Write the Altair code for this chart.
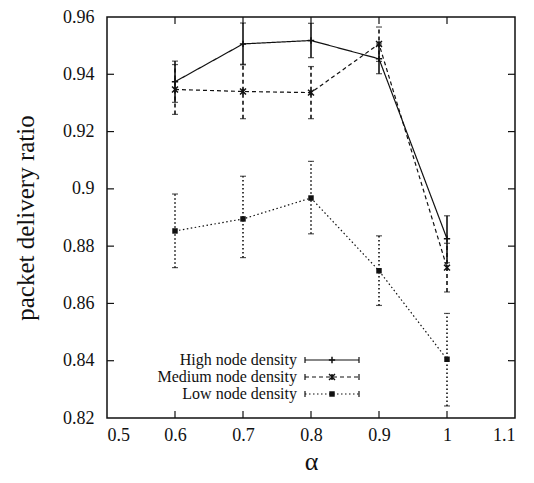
import altair as alt
import pandas as pd

alpha = [0.6, 0.7, 0.8, 0.9, 1.0]
series = ["High node density", "Medium node density", "Low node density"]
high = [0.9374, 0.9506, 0.9518, 0.9454, 0.8826]
high_lo = [0.9302, 0.9433, 0.9458, 0.9402, 0.8742]
high_hi = [0.9446, 0.9579, 0.9578, 0.9506, 0.8906]
med = [0.9347, 0.9340, 0.9336, 0.9506, 0.8725]
med_lo = [0.9260, 0.9245, 0.9245, 0.9445, 0.8640]
med_hi = [0.9434, 0.9435, 0.9427, 0.9565, 0.8810]
low = [0.8853, 0.8895, 0.8968, 0.8714, 0.8405]
low_lo = [0.8725, 0.8760, 0.8843, 0.8593, 0.8242]
low_hi = [0.8982, 0.9044, 0.9096, 0.8836, 0.8565]
x_ticks = [0.5, 0.6, 0.7, 0.8, 0.9, 1.0, 1.1]
y_ticks = [0.82, 0.84, 0.86, 0.88, 0.90, 0.92, 0.94, 0.96]

FONT = "Liberation Serif"
INK = "#111111"
W, H = 408, 401

xs = alt.Scale(domain=[0.5, 1.1], nice=False, zero=False)
ys = alt.Scale(domain=[0.82, 0.96], nice=False, zero=False)

styles = {
    "High node density": dict(dash=[1, 0], shape="M-1,0H1M0,-1V1", size=40, filled=False),
    "Medium node density": dict(dash=[4, 3], shape="M-1,-1L1,1M-1,1L1,-1M0,-1V1", size=35, filled=False),
    "Low node density": dict(dash=[1.5, 2.5], shape="square", size=30, filled=True),
}
vals = {
    "High node density": (high, high_lo, high_hi),
    "Medium node density": (med, med_lo, med_hi),
    "Low node density": (low, low_lo, low_hi),
}

X = alt.X("alpha:Q", scale=xs, title="α",
          axis=alt.Axis(values=x_ticks, format="~g", tickSize=0, grid=False,
                        labelFont=FONT, labelFontSize=18, labelColor=INK, labelPadding=8,
                        titleFont=FONT, titleFontSize=26, titleFontWeight="normal",
                        titleColor=INK, titlePadding=4, domain=False))
Y = alt.Y("pdr:Q", scale=ys, title="packet delivery ratio",
          axis=alt.Axis(values=y_ticks, format="~g", tickSize=0, grid=False,
                        labelFont=FONT, labelFontSize=18, labelColor=INK, labelPadding=13,
                        titleFont=FONT, titleFontSize=25, titleFontWeight="normal",
                        titleColor=INK, titlePadding=24, domain=False))

layers = []
for s in series:
    v, lo, hi = vals[s]
    st = styles[s]
    df = pd.DataFrame({"alpha": alpha, "pdr": v, "lo": lo, "hi": hi})
    base = alt.Chart(df)
    layers.append(base.mark_line(color=INK, strokeWidth=1.2, strokeDash=st["dash"]).encode(x=X, y=Y))
    layers.append(base.mark_rule(color=INK, strokeWidth=1.6, strokeDash=st["dash"]).encode(
        x="alpha:Q", y="lo:Q", y2="hi:Q"))
    layers.append(base.mark_tick(color=INK, thickness=1.2, size=6, orient="horizontal").encode(
        x="alpha:Q", y="lo:Q"))
    layers.append(base.mark_tick(color=INK, thickness=1.2, size=6, orient="horizontal").encode(
        x="alpha:Q", y="hi:Q"))
    layers.append(base.mark_point(shape=st["shape"], size=st["size"], filled=st["filled"],
                                  color=INK, strokeWidth=1.5, opacity=1).encode(x="alpha:Q", y="pdr:Q"))

# inward ticks on all four sides
yt = alt.Chart(pd.DataFrame({"pdr": y_ticks[1:-1]}))
xt = alt.Chart(pd.DataFrame({"alpha": x_ticks[1:-1]}))
layers.append(yt.mark_rule(color=INK, strokeWidth=1.2).encode(y="pdr:Q", x=alt.value(0), x2=alt.value(7)))
layers.append(yt.mark_rule(color=INK, strokeWidth=1.2).encode(y="pdr:Q", x=alt.value(W - 7), x2=alt.value(W)))
layers.append(xt.mark_rule(color=INK, strokeWidth=1.2).encode(x="alpha:Q", y=alt.value(H - 7), y2=alt.value(H)))
layers.append(xt.mark_rule(color=INK, strokeWidth=1.2).encode(x="alpha:Q", y=alt.value(0), y2=alt.value(7)))

# manual legend (label left, sample right)
leg_rows = [343, 360, 377]
for s, yy in zip(series, leg_rows):
    st = styles[s]
    ld = alt.Chart(pd.DataFrame({"name": [s]}))
    layers.append(ld.mark_text(font=FONT, fontSize=16, color=INK, align="right", baseline="middle").encode(
        text="name:N", x=alt.value(190), y=alt.value(yy)))
    layers.append(ld.mark_rule(color=INK, strokeWidth=1.2, strokeDash=st["dash"]).encode(
        x=alt.value(198), x2=alt.value(252), y=alt.value(yy)))
    layers.append(ld.mark_rule(color=INK, strokeWidth=1.2).encode(
        x=alt.value(198), y=alt.value(yy - 3), y2=alt.value(yy + 3)))
    layers.append(ld.mark_rule(color=INK, strokeWidth=1.2).encode(
        x=alt.value(252), y=alt.value(yy - 3), y2=alt.value(yy + 3)))
    layers.append(ld.mark_point(shape=st["shape"], size=st["size"], filled=st["filled"],
                                color=INK, strokeWidth=1.5, opacity=1).encode(
        x=alt.value(225), y=alt.value(yy)))

chart = alt.layer(*layers).properties(
    width=W, height=H,
    autosize=alt.AutoSizeParams(type="none"),
    padding={"left": 99, "top": 9, "right": 11, "bottom": 57},
    background="white",
).configure(font=FONT).configure_view(stroke=INK, strokeWidth=1.5)

chart.save("out.html", embed_options={"renderer": "svg", "actions": False})
